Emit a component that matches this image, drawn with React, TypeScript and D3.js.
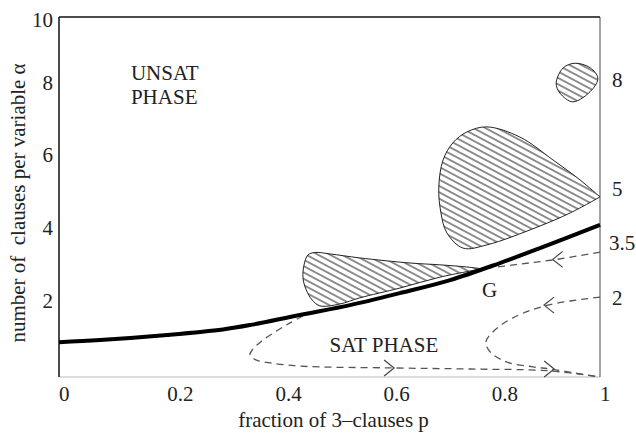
import React from 'react';
import * as d3 from 'd3';

// x = fraction of 3-clauses p, y = clauses per variable alpha
const xTicks = [0, 0.2, 0.4, 0.6, 0.8, 1];
const xTickLabels = ['0', '0.2', '0.4', '0.6', '0.8', '1'];
const yTicks = [2, 4, 6, 8, 10];

// threshold line alpha_c(p)
const threshold: [number, number][] = [
  [0, 0.85], [0.076, 0.91], [0.2, 1.05], [0.303, 1.2], [0.353, 1.32],
  [0.445, 1.6], [0.538, 1.87], [0.63, 2.2], [0.723, 2.56], [0.815, 3.03],
  [0.889, 3.44], [1, 4.08],
];

// hatched regions
const lobeLow: [number, number][] = [
  [0.782, 2.87], [0.754, 2.92], [0.704, 2.98], [0.649, 3.03], [0.556, 3.17],
  [0.501, 3.28], [0.473, 3.32], [0.46, 3.25], [0.453, 2.98], [0.451, 2.62],
  [0.457, 2.29], [0.468, 2.01], [0.482, 1.85], [0.519, 1.9], [0.556, 2.07],
  [0.63, 2.34], [0.704, 2.64], [0.782, 2.87],
];
const lobeMid: [number, number][] = [
  [1, 4.85], [0.945, 4.41], [0.884, 4.02], [0.791, 3.53], [0.747, 3.44],
  [0.717, 3.86], [0.706, 4.41], [0.702, 5.12], [0.71, 5.87], [0.728, 6.34],
  [0.754, 6.64], [0.791, 6.78], [0.852, 6.5], [0.913, 5.87], [0.963, 5.32],
  [1, 4.85],
];
const lobeTop: [number, number][] = [
  [0.954, 8.59], [0.982, 8.45], [0.996, 8.14], [0.985, 7.8],
  [0.95, 7.47], [0.926, 7.71], [0.919, 7.99], [0.932, 8.45],
];

// dashed trajectories
const traj35: [number, number][] = [[1, 3.33], [0.92, 3.13], [0.852, 3.0], [0.782, 2.87]];
const traj2: [number, number][] = [
  [1, 2.09], [0.904, 1.87], [0.839, 1.52], [0.802, 1.13], [0.789, 0.85],
  [0.797, 0.58], [0.828, 0.3], [0.876, 0.17], [0.908, 0.11], [0.954, 0], [1, -0.11],
];
const trajLow: [number, number][] = [
  [0.451, 1.57], [0.427, 1.38], [0.399, 1.13], [0.372, 0.85], [0.357, 0.63],
  [0.353, 0.5], [0.364, 0.36], [0.39, 0.28], [0.445, 0.19], [0.612, 0.14],
  [0.76, 0.11], [0.906, 0.06], [1, -0.11],
];
const arrows = [
  { p: 0.92, a: 3.13, dir: -1 },
  { p: 0.904, a: 1.87, dir: -1 },
  { p: 0.612, a: 0.14, dir: 1 },
  { p: 0.908, a: 0.11, dir: 1 },
];
const rightLabels = [
  { a: 8, text: '8' },
  { a: 5, text: '5' },
  { a: 3.5, text: '3.5' },
  { a: 2, text: '2' },
];

const W = 636;
const H = 436;
const left = 59, right = 600, top = 17, bottom = 377;
const font = '"Liberation Serif", "Times New Roman", serif';
const ink = '#222';

export default function App() {
  const x = d3.scaleLinear().domain([0, 1]).range([left, right]);
  const y = d3.scaleLinear().domain([0, 8, 10]).range([373, 82.6, top]);

  const smooth = d3.line<[number, number]>()
    .x(d => x(d[0]))
    .y(d => y(d[1]))
    .curve(d3.curveCatmullRom.alpha(0.5));
  const closed = d3.line<[number, number]>()
    .x(d => x(d[0]))
    .y(d => y(d[1]))
    .curve(d3.curveCatmullRomClosed.alpha(0.5));

  return (
    <svg width={W} height={H} style={{ position: 'fixed', left: 0, top: 0, background: '#fff' }}>
      <defs>
        <pattern id="hatch" width="8" height="5.6" patternUnits="userSpaceOnUse" patternTransform="rotate(28)">
          <line x1="0" y1="2.8" x2="8" y2="2.8" stroke="#222" strokeWidth="1" />
        </pattern>
      </defs>

      {/* frame */}
      <line x1={left} y1={bottom} x2={right} y2={bottom} stroke="#bbb" strokeWidth={1} />
      <line x1={right} y1={top} x2={right} y2={bottom} stroke="#666" strokeWidth={1.2} />
      <line x1={left} y1={top} x2={right} y2={top} stroke="#111" strokeWidth={1.5} />
      <line x1={left} y1={top} x2={left} y2={bottom} stroke="#111" strokeWidth={1.5} />

      {/* hatched regions */}
      <path d={smooth(lobeLow) + 'Z'} fill="url(#hatch)" stroke="#222" strokeWidth={1} />
      <path d={smooth(lobeMid) + 'Z'} fill="url(#hatch)" stroke="#222" strokeWidth={1} />
      <path d={closed(lobeTop) ?? ''} fill="url(#hatch)" stroke="#222" strokeWidth={1} />

      {/* trajectories */}
      {[traj35, traj2, trajLow].map((t, i) => (
        <path key={i} d={smooth(t) ?? ''} fill="none" stroke="#555" strokeWidth={1.3} strokeDasharray="7,5" />
      ))}
      {arrows.map((a, i) => {
        const cx = x(a.p), cy = y(a.a);
        const tx = cx + a.dir * 4;
        const bx = tx - a.dir * 10;
        return (
          <path key={i} d={`M${bx},${cy - 8}L${tx},${cy}L${bx},${cy + 8}`} fill="none" stroke="#444" strokeWidth={1.2} />
        );
      })}

      {/* threshold */}
      <path d={smooth(threshold) ?? ''} fill="none" stroke="#000" strokeWidth={4} />

      {/* tick labels */}
      <g fontFamily={font} fontSize={21} fill={ink}>
        {xTicks.map((t, i) => (
          <text key={i} x={x(t)} y={bottom + 24}>{xTickLabels[i]}</text>
        ))}
        {yTicks.map(t => (
          <text key={t} x={53} y={Math.max(y(t), 20)} dy="0.34em" textAnchor="end">{t}</text>
        ))}
        {rightLabels.map(r => (
          <text key={r.text} x={r.text.length > 1 ? right + 9 : right + 12} y={y(r.a) - 3} dy="0.34em">{r.text}</text>
        ))}
        <text x={x(0.133)} y={y(8.08)}>UNSAT</text>
        <text x={x(0.133)} y={y(8.08) + 24}>PHASE</text>
        <text x={x(0.5)} y={y(0.58)}>SAT PHASE</text>
        <text x={x(0.782)} y={y(2.1)}>G</text>
        <text x={(left + right) / 2 + 4} y={427} textAnchor="middle">fraction of 3–clauses p</text>
        <text transform={`translate(25,${203}) rotate(-90)`} textAnchor="middle" style={{ whiteSpace: 'pre' }}>number of  clauses per variable α</text>
      </g>
    </svg>
  );
}
